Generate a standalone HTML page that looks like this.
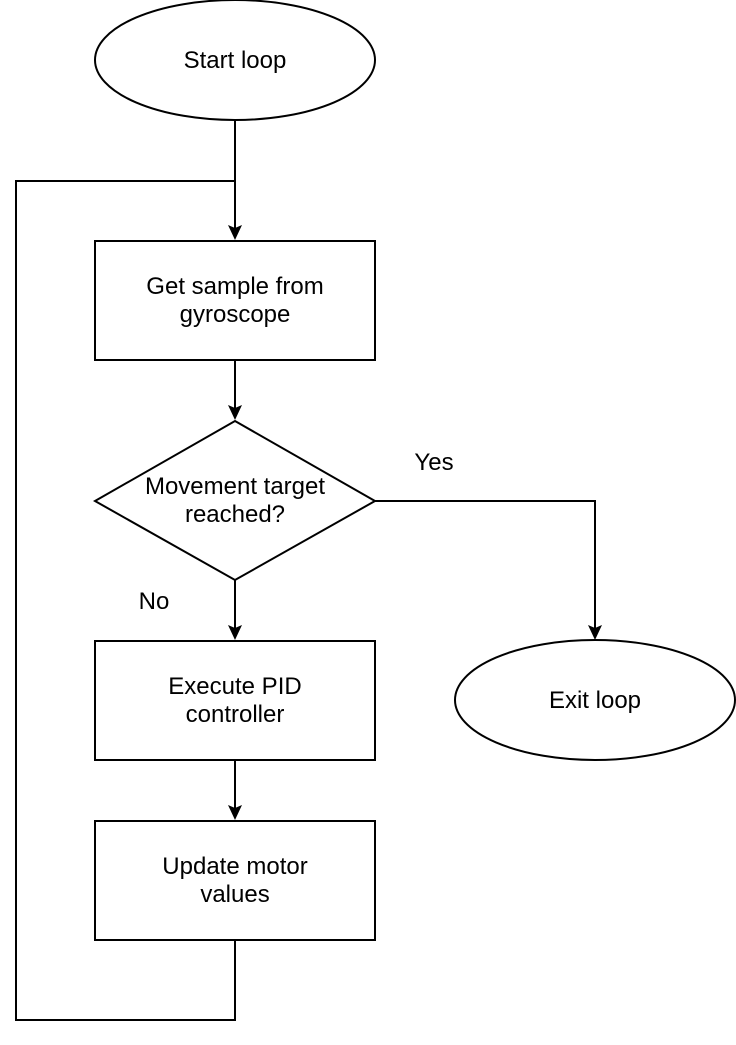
<!DOCTYPE html>
<html><head><meta charset="utf-8"><style>html,body{margin:0;padding:0;background:#fff}</style></head>
<body>
<svg width="736" height="1040" viewBox="0 0 736 1040" xmlns="http://www.w3.org/2000/svg" font-family="Liberation Sans, sans-serif" font-size="24">
<g fill="#fff" stroke="#000" stroke-width="2">
<ellipse cx="235" cy="60" rx="140" ry="60"/>
<rect x="95" y="241" width="280" height="119"/>
<polygon points="235,421 375,501 235,580 95,501"/>
<rect x="95" y="641" width="280" height="119"/>
<rect x="95" y="821" width="280" height="119"/>
<ellipse cx="595" cy="700" rx="140" ry="60"/>
</g>
<g fill="none" stroke="#000" stroke-width="2">
<path d="M235,120 V230"/>
<path d="M235,940 V1020 H16 V181 H235 V230"/>
<path d="M235,360 V410"/>
<path d="M235,580 V630"/>
<path d="M235,760 V810"/>
<path d="M375,501 H595 V630"/>
</g>
<g fill="#000">
<polygon points="228,225 235,240 242,225 235,228"/>
<polygon points="228,405 235,420 242,405 235,408"/>
<polygon points="228,625 235,640 242,625 235,628"/>
<polygon points="228,805 235,820 242,805 235,808"/>
<polygon points="588,625 595,640 602,625 595,628"/>
</g>
<g text-anchor="middle" fill="#000">
<text x="235" y="68">Start loop</text>
<text x="235" y="294">Get sample from</text>
<text x="235" y="322">gyroscope</text>
<text x="235" y="494">Movement target</text>
<text x="235" y="522">reached?</text>
<text x="235" y="694">Execute PID</text>
<text x="235" y="722">controller</text>
<text x="235" y="874">Update motor</text>
<text x="235" y="902">values</text>
<text x="595" y="708">Exit loop</text>
<text x="434" y="470">Yes</text>
<text x="154" y="609">No</text>
</g>
</svg>
</body></html>
